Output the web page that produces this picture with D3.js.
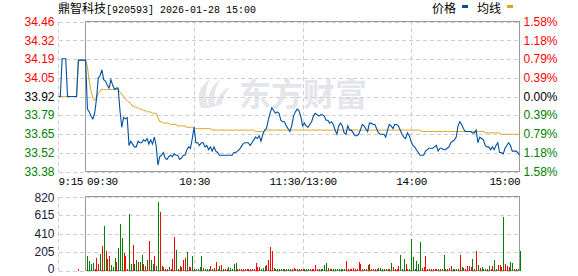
<!DOCTYPE html>
<html>
<head>
<meta charset="utf-8">
<script src="https://cdn.jsdelivr.net/npm/d3@7"></script>
<style>
  html, body { margin: 0; padding: 0; background: #fff; }
  svg text { font-family: "Liberation Sans", Arial, sans-serif; }
</style>
</head>
<body>
<div id="chart"></div>
<script>
// ---- data ----
const stockName = "鼎智科技";
const stockCode = "[920593]";
const stamp = "2026-01-28 15:00";
const prevClose = 33.92;

// right axis percentages and left axis price labels
const pctTicks = [1.58, 1.18, 0.79, 0.39, 0, -0.39, -0.79, -1.18, -1.58];
const priceLabels = ["34.46", "34.32", "34.19", "34.05", "33.92", "33.79", "33.65", "33.52", "33.38"];
const pctLabels = ["1.58%", "1.18%", "0.79%", "0.39%", "0.00%", "0.39%", "0.79%", "1.18%", "1.58%"];
const volTicks = [820, 615, 410, 205, 0];

// time labels (minutes from 09:30; call auction starts 15 min before)
const timeTicks = [-15, 0, 60, 120, 180, 240];
const timeLabels = ["9:15", "09:30", "10:30", "11:30/13:00", "14:00", "15:00"];

// 09:15 - 09:29 call auction
const auctionPrice = [33.92, 33.92, 34.19, 34.19, 34.19, 33.92, 33.92, 33.92, 33.92, 33.92, 33.92, 34.18, 34.18, 34.18, 34.18];
const auctionAvg   = [33.92, 33.92, 33.92, 33.92, 33.92, 33.92, 33.92, 33.92, 33.92, 33.92, 33.92, 34.18, 34.18, 34.18, 34.18];
const auctionVol   = [0, 0, 0, 0, 0, 0, 0, 0, 0, 0, 0, 15, 0, 0, 0];
const auctionUp    = [0, 0, 0, 0, 0, 0, 0, 0, 0, 0, 0, 1, 0, 0, 0];

// one value per minute, 09:30 .. 15:00
const price = [
  34.18,33.83,33.81,33.78,33.76,33.80,33.90,34.05,34.07,34.11,
  34.04,34.03,34.00,33.98,34.04,34.00,33.97,33.98,33.98,33.82,
  33.70,33.77,33.76,33.77,33.57,33.60,33.58,33.56,33.56,33.60,
  33.59,33.59,33.61,33.60,33.62,33.58,33.61,33.58,33.63,33.57,
  33.43,33.49,33.50,33.52,33.48,33.47,33.49,33.50,33.49,33.51,
  33.50,33.50,33.47,33.48,33.50,33.50,33.54,33.56,33.55,33.62,
  33.70,33.59,33.59,33.57,33.59,33.59,33.56,33.57,33.54,33.56,
  33.53,33.56,33.53,33.52,33.50,33.50,33.50,33.50,33.50,33.50,
  33.50,33.50,33.52,33.52,33.53,33.54,33.56,33.58,33.59,33.59,
  33.59,33.57,33.59,33.61,33.63,33.62,33.64,33.60,33.65,33.68,
  33.69,33.75,33.80,33.84,33.82,33.80,33.81,33.80,33.75,33.74,
  33.74,33.71,33.69,33.67,33.71,33.78,33.81,33.83,33.82,33.78,
  33.71,33.73,33.71,33.70,33.72,33.74,33.78,33.80,33.79,33.78,
  33.79,33.79,33.78,33.75,33.75,33.73,33.74,33.72,33.68,33.65,
  33.71,33.73,33.71,33.66,33.65,33.71,33.68,33.68,33.66,33.64,
  33.64,33.65,33.68,33.72,33.71,33.69,33.67,33.73,33.73,33.72,
  33.72,33.69,33.66,33.65,33.65,33.65,33.63,33.68,33.72,33.71,
  33.69,33.72,33.72,33.71,33.68,33.65,33.63,33.62,33.66,33.64,
  33.60,33.57,33.56,33.54,33.52,33.50,33.50,33.50,33.53,33.54,
  33.55,33.55,33.55,33.56,33.57,33.53,33.55,33.55,33.54,33.54,
  33.55,33.56,33.59,33.60,33.61,33.63,33.71,33.74,33.72,33.69,
  33.67,33.67,33.67,33.67,33.66,33.66,33.68,33.59,33.63,33.62,
  33.61,33.57,33.56,33.56,33.54,33.56,33.54,33.57,33.59,33.52,
  33.52,33.51,33.55,33.57,33.59,33.57,33.53,33.53,33.53,33.52,
  33.50
];

const avgPrice = [
  34.18,34.13,34.03,33.96,33.91,33.89,33.91,33.94,33.96,33.97,
  33.97,33.97,33.97,33.97,33.97,33.97,33.97,33.97,33.97,33.95,
  33.94,33.92,33.90,33.89,33.88,33.87,33.85,33.85,33.84,33.84,
  33.83,33.83,33.82,33.82,33.81,33.81,33.81,33.80,33.80,33.80,
  33.77,33.74,33.74,33.73,33.73,33.73,33.73,33.72,33.72,33.72,
  33.72,33.71,33.71,33.71,33.71,33.71,33.70,33.70,33.70,33.70,
  33.70,33.69,33.69,33.69,33.69,33.69,33.69,33.69,33.69,33.69,
  33.68,33.68,33.68,33.68,33.68,33.68,33.68,33.68,33.68,33.68,
  33.68,33.68,33.68,33.68,33.68,33.68,33.68,33.68,33.68,33.68,
  33.68,33.68,33.68,33.68,33.67,33.67,33.67,33.67,33.67,33.67,
  33.68,33.68,33.68,33.68,33.68,33.68,33.68,33.68,33.68,33.68,
  33.68,33.68,33.68,33.68,33.68,33.68,33.68,33.68,33.68,33.68,
  33.68,33.68,33.68,33.68,33.68,33.68,33.68,33.68,33.68,33.68,
  33.68,33.68,33.68,33.68,33.68,33.68,33.68,33.68,33.68,33.68,
  33.68,33.68,33.68,33.68,33.68,33.68,33.68,33.68,33.68,33.68,
  33.68,33.68,33.68,33.68,33.68,33.68,33.68,33.68,33.68,33.68,
  33.68,33.68,33.68,33.68,33.68,33.68,33.68,33.68,33.68,33.68,
  33.68,33.68,33.68,33.68,33.68,33.68,33.68,33.68,33.68,33.68,
  33.68,33.68,33.68,33.68,33.68,33.68,33.67,33.67,33.67,33.67,
  33.67,33.67,33.67,33.67,33.67,33.67,33.67,33.67,33.67,33.67,
  33.67,33.67,33.67,33.67,33.67,33.67,33.67,33.67,33.67,33.67,
  33.67,33.67,33.67,33.67,33.67,33.67,33.67,33.67,33.67,33.67,
  33.67,33.66,33.66,33.66,33.66,33.66,33.66,33.66,33.66,33.66,
  33.65,33.65,33.65,33.65,33.65,33.65,33.65,33.65,33.65,33.65,
  33.65
];

// volume per minute (lots)
const volume = [
  0,159,104,70,78,18,141,74,181,270,
  492,215,126,159,59,41,141,92,248,514,
  363,192,163,15,625,70,281,70,115,89,
  96,170,70,48,115,329,111,70,159,52,
  762,648,52,41,15,15,37,15,130,374,
  226,15,48,44,115,133,204,41,41,159,
  15,15,15,41,163,26,15,15,15,48,
  15,33,92,15,48,59,15,15,15,37,
  25,15,70,85,15,15,15,15,15,15,
  15,15,15,15,78,37,37,15,33,52,
  59,111,259,218,33,15,15,15,22,18,
  15,15,15,15,15,26,15,15,15,15,
  15,15,15,15,15,15,15,59,15,15,
  15,15,59,81,26,15,15,15,15,15,
  15,15,15,15,104,15,15,15,26,15,
  15,92,70,15,15,15,59,70,22,15,
  15,15,26,26,15,15,15,15,15,81,
  37,15,15,48,170,15,126,70,15,15,
  348,148,15,100,70,315,26,37,159,15,
  15,15,15,15,15,15,15,15,170,15,
  15,26,48,15,15,22,15,170,37,26,
  15,48,48,41,126,15,215,59,26,37,
  15,15,15,48,15,48,115,15,59,59,
  37,592,70,48,37,92,81,15,15,15,
  215
];

// 1 = up minute (red bar), 0 = down minute (green bar)
const volUp = [
  1,0,0,0,0,1,1,1,0,1,
  0,1,0,1,0,0,0,1,0,0,
  0,1,1,1,0,0,1,0,0,1,
  0,0,1,1,0,1,0,0,1,0,
  0,1,0,1,1,1,0,1,1,1,
  0,1,0,1,1,1,0,1,1,0,
  1,0,0,0,0,1,0,0,0,1,
  0,1,1,0,0,1,0,1,1,0,
  0,0,0,0,1,1,1,1,1,1,
  1,1,1,1,1,1,1,0,0,0,
  1,1,1,1,0,1,0,0,0,0,
  1,0,0,0,1,1,0,1,0,1,
  1,0,0,0,1,1,1,1,1,1,
  0,0,0,0,1,1,0,0,0,0,
  0,0,0,0,1,1,1,1,1,1,
  1,1,1,1,0,1,0,1,1,0,
  1,1,0,0,0,1,0,0,1,0,
  1,1,1,1,0,0,0,1,1,0,
  0,0,0,0,0,0,1,1,1,1,
  0,1,1,1,1,0,1,0,0,0,
  1,1,1,0,0,0,1,1,0,0,
  1,1,1,1,0,1,1,0,1,0,
  0,0,1,0,1,1,0,0,1,1,
  1,0,1,1,1,0,0,1,0,0,
  0
];

// ---- build minute records ----
const minutes = [];
auctionPrice.forEach((p, i) => minutes.push({t: i - auctionPrice.length, price: p, avg: auctionAvg[i], vol: auctionVol[i], up: auctionUp[i]}));
price.forEach((p, i) => minutes.push({t: i, price: p, avg: avgPrice[i], vol: volume[i], up: volUp[i]}));

// ---- layout ----
const W = 578, H = 276;
const left = 58.5, open = 85.5, right = 519.5;
const pTop = 21.5, pBot = 171.5;
const vTop = 196.5, vBot = 270.5;

const svg = d3.select("#chart").append("svg")
  .attr("width", W).attr("height", H);

const x = d3.scaleLinear().domain([-15, 240]).range([left, right]);
const yPrice = d3.scaleLinear()
  .domain([prevClose * (1 - 0.0158), prevClose * (1 + 0.0158)])
  .range([pBot, pTop]);
const yVol = d3.scaleLinear().domain([0, 820]).range([vBot, vTop]);

const tickPrice = pctTicks.map(p => prevClose * (1 + p / 100));
const tickColor = i => pctTicks[i] > 0 ? "#ff0000" : (pctTicks[i] < 0 ? "#008000" : "#000");

// watermark
const wm = svg.append("g").attr("fill", "#e5e6ea");
wm.append("path").attr("d", "M201,108 C196,97 199,86 210,79 C205,89 205,99 209,108 Z");
wm.append("path").attr("d", "M209,108 C206,96 211,85 221,79 C214,89 213,99 216,106 Z");
wm.append("path").attr("d", "M216,106 C216,97 222,90 230,87 C224,94 222,100 222,104 Z");
wm.append("text")
  .attr("x", 239).attr("y", 106)
  .style("font-family", "'Noto Sans CJK SC'")
  .style("font-weight", "bold")
  .style("font-size", "32px")
  .text("东方财富");

// ---- grids ----
const dash = "4,3";
function styleGrid(g) {
  g.select(".domain").remove();
  g.selectAll("line").attr("stroke", "#cfcfcf").attr("stroke-dasharray", dash)
    .attr("shape-rendering", "crispEdges");
  g.selectAll("text").remove();
}

// horizontal price grid
svg.append("g")
  .attr("transform", `translate(${left},0)`)
  .call(d3.axisRight(yPrice).tickValues(tickPrice).tickSize(right - left))
  .call(styleGrid);

// vertical grid in both panes
svg.append("g")
  .attr("transform", `translate(0,${pBot})`)
  .call(d3.axisBottom(x).tickValues([60, 120, 180]).tickSize(pTop - pBot))
  .call(styleGrid);
svg.append("g")
  .attr("transform", `translate(0,${vBot})`)
  .call(d3.axisBottom(x).tickValues([60, 120, 180]).tickSize(vTop - vBot))
  .call(styleGrid);

// horizontal volume grid
svg.append("g")
  .attr("transform", `translate(${left},0)`)
  .call(d3.axisRight(yVol).tickValues(volTicks).tickSize(right - left))
  .call(styleGrid);

// auction area dashed left edges
[[pTop, pBot], [vTop, vBot]].forEach(([a, b]) => {
  svg.append("line").attr("x1", left).attr("x2", left).attr("y1", a).attr("y2", b)
    .attr("stroke", "#cfcfcf").attr("stroke-dasharray", dash).attr("shape-rendering", "crispEdges");
});

// solid frames
[[pTop, pBot], [vTop, vBot]].forEach(([a, b]) => {
  svg.append("rect").attr("x", open).attr("y", a)
    .attr("width", right - open).attr("height", b - a)
    .attr("fill", "none").attr("stroke", "#999").attr("shape-rendering", "crispEdges");
});

// ---- price axes ----
const axL = svg.append("g")
  .attr("transform", `translate(${left},0)`)
  .call(d3.axisLeft(yPrice).tickValues(tickPrice).tickSize(0).tickPadding(4)
    .tickFormat((d, i) => priceLabels[i]));
axL.select(".domain").remove();
axL.selectAll("text").attr("fill", (d, i) => tickColor(i)).style("font-size", "12px");

const axR = svg.append("g")
  .attr("transform", `translate(${right},0)`)
  .call(d3.axisRight(yPrice).tickValues(tickPrice).tickSize(0).tickPadding(4)
    .tickFormat((d, i) => pctLabels[i]));
axR.select(".domain").remove();
axR.selectAll("text").attr("fill", (d, i) => tickColor(i)).style("font-size", "12px");

// volume axis
const axV = svg.append("g")
  .attr("transform", `translate(${left},0)`)
  .call(d3.axisLeft(yVol).tickValues(volTicks).tickSize(0).tickPadding(4));
axV.select(".domain").remove();
axV.selectAll("text").attr("fill", "#1a1a3a").style("font-size", "12px")
  .attr("y", d => d === 0 ? -2 : (d === 820 ? 1 : 0));

// time axis
const axT = svg.append("g")
  .attr("transform", `translate(0,${pBot})`)
  .call(d3.axisBottom(x).tickValues(timeTicks).tickSize(0).tickPadding(6)
    .tickFormat((d, i) => timeLabels[i]));
axT.select(".domain").remove();
axT.selectAll("text")
  .attr("fill", "#000")
  .style("font-family", "'Liberation Mono', monospace")
  .style("font-size", "11px")
  .style("letter-spacing", "-0.5px")
  .attr("text-anchor", (d, i) => i < 2 ? "start" : (i === timeTicks.length - 1 ? "end" : "middle"))
  .attr("dx", (d, i) => i === 0 ? -0.5 : (i === 1 ? 1 : 0));

// ---- volume bars ----
svg.append("g").selectAll("rect")
  .data(minutes.filter(d => d.vol > 0))
  .join("rect")
  .attr("x", d => Math.round(x(d.t)))
  .attr("width", 1)
  .attr("y", d => yVol(d.vol))
  .attr("height", d => yVol(0) - yVol(d.vol))
  .attr("fill", d => d.up ? "#ff0000" : "#008000")
  .attr("shape-rendering", "crispEdges");

// ---- lines ----
const avgLine = d3.line().x(d => x(d.t)).y(d => yPrice(d.avg));
const priceLine = d3.line().x(d => x(d.t)).y(d => yPrice(d.price));

svg.append("path").datum(minutes)
  .attr("d", avgLine).attr("fill", "none")
  .attr("stroke", "#daa520").attr("stroke-width", 1);
svg.append("path").datum(minutes)
  .attr("d", priceLine).attr("fill", "none")
  .attr("stroke", "#0050a0").attr("stroke-width", 1.1);

// ---- title and legend ----
const title = svg.append("text").attr("x", 58).attr("y", 13).attr("fill", "#000");
title.append("tspan").style("font-family", "'Noto Sans CJK SC'").style("font-size", "12px").text(stockName);
title.append("tspan").style("font-family", "'Liberation Mono', monospace").style("font-size", "10px")
  .text(stockCode + " " + stamp);

const legend = [
  {label: "价格", color: "#0050a0", x: 432},
  {label: "均线", color: "#daa520", x: 477}
];
const lg = svg.append("g");
lg.selectAll("text").data(legend).join("text")
  .attr("x", d => d.x).attr("y", 13)
  .style("font-family", "'Noto Sans CJK SC'").style("font-size", "12px")
  .attr("fill", "#000").text(d => d.label);
lg.selectAll("rect").data(legend).join("rect")
  .attr("x", d => d.x + 30).attr("y", 5).attr("width", 6).attr("height", 3)
  .attr("fill", d => d.color);
</script>
</body>
</html>
